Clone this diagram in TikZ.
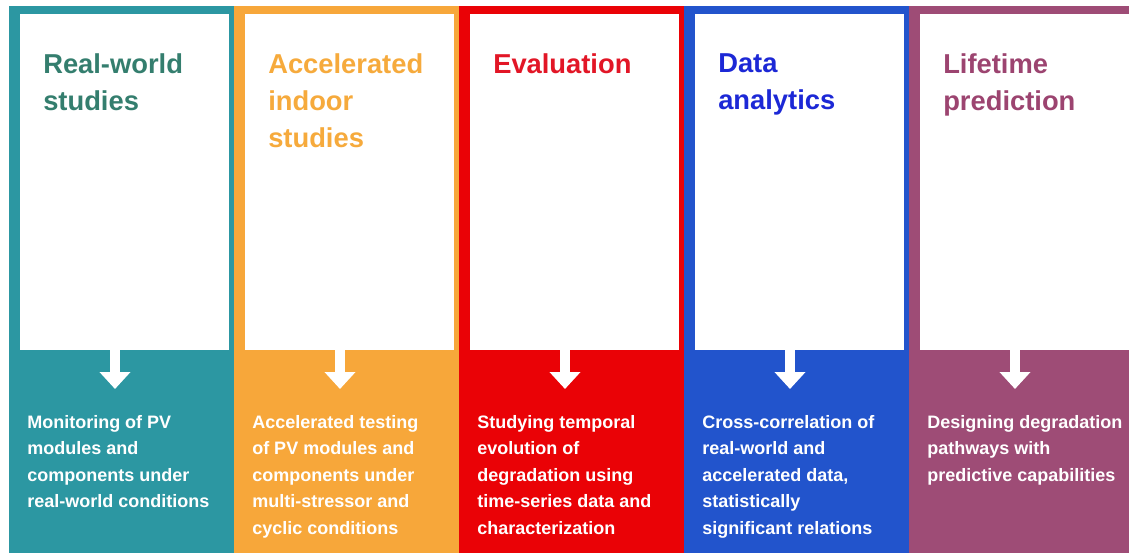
\documentclass[tikz,border=0pt]{standalone}
\usepackage{fontspec}
\setmainfont{Liberation Sans}
\usetikzlibrary{arrows.meta}

\definecolor{realteal}{RGB}{44,151,162}
\definecolor{realtealtxt}{RGB}{52,126,110}
\definecolor{accorange}{RGB}{247,167,58}
\definecolor{accorangetxt}{RGB}{246,170,60}
\definecolor{evalred}{RGB}{234,2,6}
\definecolor{evalredtxt}{RGB}{226,22,38}
\definecolor{datablue}{RGB}{34,84,204}
\definecolor{databluetxt}{RGB}{28,40,214}
\definecolor{lifepurple}{RGB}{158,76,118}
\definecolor{lifepurpletxt}{RGB}{156,68,112}

\tikzset{
  heading/.style={anchor=north west, inner sep=0pt, align=left,
    font=\fontsize{20.5}{27.75}\selectfont\bfseries},
  blurb/.style={anchor=north west, inner sep=0pt, align=left, text=white,
    font=\fontsize{13.5}{19.9}\selectfont\bfseries},
  downarrow/.style={draw=white, line width=7.5pt,
    -{Triangle[width=22.5pt,length=12.75pt]}},
}

\begin{document}
\begin{tikzpicture}[x=0.75pt,y=-0.75pt]
  \useasboundingbox (0,0) rectangle (1129,553);

  % real-world studies
  \fill[realteal] (9,6) rectangle (235,553);
  \fill[white] (20,14) rectangle (229,350);
  \node[heading, text=realtealtxt] (head1) at (43,53) {Real-world\\studies};
  \coordinate (from1) at (115,350);
  \coordinate (to1) at (115,389);
  \draw[downarrow] (from1) -- (to1);
  \node[blurb] (text1) at (27,415) {Monitoring of PV\\modules and\\components under\\real-world conditions};

  % accelerated indoor studies
  \fill[accorange] (234,6) rectangle (460,553);
  \fill[white] (245,14) rectangle (454,350);
  \node[heading, text=accorangetxt] (head2) at (268,53) {Accelerated\\indoor\\studies};
  \coordinate (from2) at (340,350);
  \coordinate (to2) at (340,389);
  \draw[downarrow] (from2) -- (to2);
  \node[blurb] (text2) at (252,415) {Accelerated testing\\of PV modules and\\components under\\multi-stressor and\\cyclic conditions};

  % evaluation
  \fill[evalred] (459,6) rectangle (685,553);
  \fill[white] (470,14) rectangle (679,350);
  \node[heading, text=evalredtxt] (head3) at (493,53) {Evaluation};
  \coordinate (from3) at (565,350);
  \coordinate (to3) at (565,389);
  \draw[downarrow] (from3) -- (to3);
  \node[blurb] (text3) at (477,415) {Studying temporal\\evolution of\\degradation using\\time-series data and\\characterization};

  % data analytics
  \fill[datablue] (684,6) rectangle (910,553);
  \fill[white] (695,14) rectangle (904,350);
  \node[heading, text=databluetxt] (head4) at (718,53) {Data\\analytics};
  \coordinate (from4) at (790,350);
  \coordinate (to4) at (790,389);
  \draw[downarrow] (from4) -- (to4);
  \node[blurb] (text4) at (702,415) {Cross-correlation of\\real-world and\\accelerated data,\\statistically\\significant relations};

  % lifetime prediction
  \fill[lifepurple] (909,6) rectangle (1129,553);
  \fill[white] (920,14) rectangle (1129,350);
  \node[heading, text=lifepurpletxt] (head5) at (943,53) {Lifetime\\prediction};
  \coordinate (from5) at (1015,350);
  \coordinate (to5) at (1015,389);
  \draw[downarrow] (from5) -- (to5);
  \node[blurb] (text5) at (927,415) {Designing degradation\\pathways with\\predictive capabilities};
\end{tikzpicture}
\end{document}
